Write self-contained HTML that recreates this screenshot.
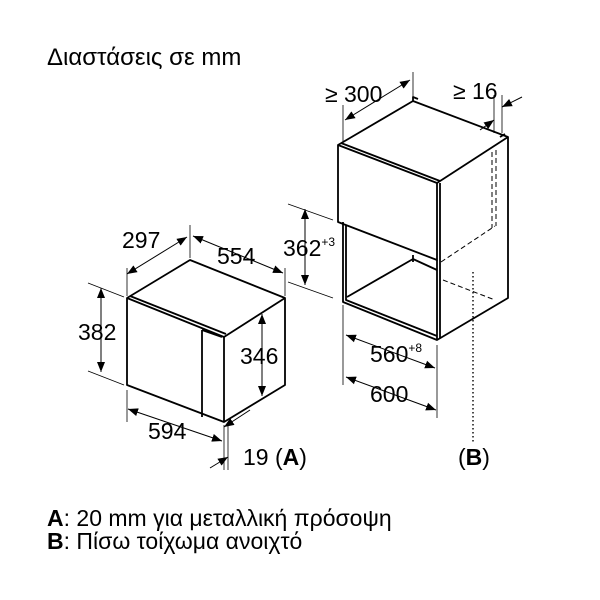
<!DOCTYPE html>
<html><head><style>
html,body{margin:0;padding:0;background:#fff}
svg{display:block}
text{font-family:"Liberation Sans",sans-serif;fill:#000}
</style></head><body>
<svg width="600" height="600" viewBox="0 0 600 600" xmlns="http://www.w3.org/2000/svg">
<defs>
<marker id="a" viewBox="0 0 10 10" refX="10" refY="5" markerWidth="10" markerHeight="10" orient="auto-start-reverse" markerUnits="userSpaceOnUse">
<path d="M0,1 L10,5 L0,9 z" fill="#000"/></marker>
</defs>
<text x="47" y="65" font-size="24">Διαστάσεις σε mm</text>
<text x="47" y="526" font-size="23"><tspan font-weight="bold">A</tspan>: 20 mm για μεταλλική πρόσοψη</text>
<text x="47" y="549" font-size="23"><tspan font-weight="bold">B</tspan>: Πίσω τοίχωμα ανοιχτό</text>

<g fill="none" stroke="#000" stroke-width="1.8" stroke-linejoin="round">
<path d="M127,298 L190,260 L285,298 L285,385 L224,422 L127,385 Z"/>
<path d="M127,298 L224,337 L285,298"/>
<path d="M130,296 L226,334"/>
<path d="M224,337 L224,422"/>
<path d="M202,330 L202,417"/>
<path d="M202,330 L222,337"/>
<path d="M338,145 L413,101 L508,137 L508,298 L437,340 L343,302 L343,222"/>
<path d="M338,145 L437,183 L437,260 L338,222 Z"/>
<path d="M341,143 L440,181"/>
<path d="M437,183 L508,137"/>
<path d="M437,260 L437,340"/>
<path d="M440,183 L440,338"/>
<path d="M347,297 L413,259 L437,270"/>
<path d="M413,255 L413,262"/>
<path d="M346,225 L346,300 L437,336"/>
<path d="M413,101 L413,97 L418,99"/>
<path d="M500,137 L505,134"/>
</g>
<g fill="none" stroke="#000" stroke-width="1" stroke-dasharray="5,3">
<path d="M492,152 L492,228"/>
<path d="M496,150 L496,226"/>
<path d="M441,262 L495,226"/>
<path d="M443,280 L495,300"/>
</g>
<path d="M473,272 L473,442" stroke="#000" stroke-width="1.4" stroke-dasharray="1.5,2.5" fill="none"/>

<g stroke="#000" stroke-width="0.8" fill="none">
<path d="M127,268 L127,296"/><path d="M190,225 L190,258"/><path d="M285,268 L285,296"/>
<path d="M88,283 L124,297"/><path d="M88,371 L124,385"/>
<path d="M127,390 L127,422"/><path d="M224,425 L224,470"/><path d="M228,425 L228,470"/>
<path d="M343,105 L343,142"/><path d="M413,72 L413,98"/>
<path d="M494,95 L494,133"/><path d="M502,95 L502,133"/>
<path d="M288,204 L333,220"/><path d="M288,282 L333,298"/>
<path d="M343,305 L343,385"/><path d="M437,345 L437,418"/>
</g>
<g stroke="#000" stroke-width="1" fill="none">
<path d="M127,274 L187,237" marker-start="url(#a)" marker-end="url(#a)"/>
<path d="M193,236 L283,273" marker-start="url(#a)"  marker-end="url(#a)"/>
<path d="M101,288 L101,372" marker-start="url(#a)" marker-end="url(#a)"/>
<path d="M262,314 L262,396" marker-start="url(#a)" marker-end="url(#a)"/>
<path d="M128,409 L222,441" marker-start="url(#a)" marker-end="url(#a)"/>
<path d="M250,410 L224,427" marker-end="url(#a)"/>
<path d="M210,468 L228,457" marker-end="url(#a)"/>
<path d="M345,120 L410,80" marker-start="url(#a)" marker-end="url(#a)"/>
<path d="M480,130 L494,120" marker-end="url(#a)"/>
<path d="M522,97 L502,107" marker-end="url(#a)"/>
<path d="M305,209 L305,285" marker-start="url(#a)" marker-end="url(#a)"/>
<path d="M346,335 L435,368" marker-start="url(#a)" marker-end="url(#a)"/>
<path d="M346,377 L436,410" marker-start="url(#a)" marker-end="url(#a)"/>
</g>
<g font-size="23">
<text x="122" y="248">297</text>
<text x="217" y="264">554</text>
<text x="78" y="340">382</text>
<text x="240" y="364">346</text>
<text x="148" y="439">594</text>
<text x="243" y="465">19 (<tspan font-weight="bold">A</tspan>)</text>
<text x="325" y="102">≥ 300</text>
<text x="453" y="99">≥ 16</text>
<text x="283" y="256">362<tspan font-size="12" dy="-10">+3</tspan></text>
<text x="370" y="362">560<tspan font-size="12" dy="-10">+8</tspan></text>
<text x="370" y="402">600</text>
<text x="458" y="465">(<tspan font-weight="bold">B</tspan>)</text>
</g>
</svg>
</body></html>
